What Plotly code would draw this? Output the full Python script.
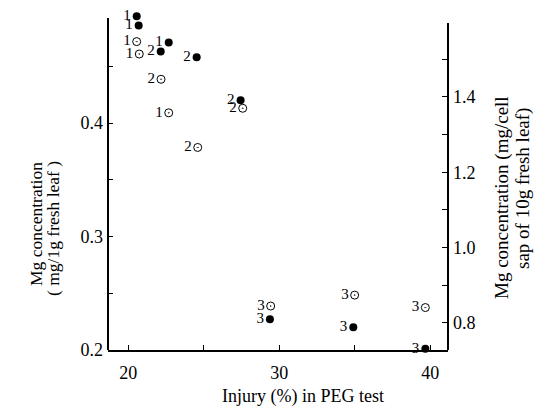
import plotly.graph_objects as go

# Filled circles: Mg per 1 g fresh leaf (left axis)
filled_injury = [20.56, 20.69, 22.68, 22.15, 24.53, 27.44, 29.38, 34.90, 39.67]
filled_mg = [0.494, 0.486, 0.471, 0.463, 0.458, 0.420, 0.227, 0.220, 0.201]
filled_group = ["1", "1", "1", "2", "2", "2", "3", "3", "3"]

# Open dotted circles: Mg in cell sap of 10 g fresh leaf (right axis)
open_injury = [20.56, 20.73, 22.68, 22.17, 27.58, 24.60, 29.43, 34.99, 39.67]
open_mg = [1.547, 1.514, 1.358, 1.447, 1.370, 1.266, 0.845, 0.874, 0.841]
open_group = ["1", "1", "1", "2", "2", "2", "3", "3", "3"]

x_ticks = [20, 25, 30, 35, 40]
x_labels = ["20", "", "30", "", "40"]
y1_ticks = [0.2, 0.25, 0.3, 0.35, 0.4, 0.45]
y1_labels = ["0.2", "", "0.3", "", "0.4", ""]
y2_ticks = [0.8, 0.9, 1.0, 1.1, 1.2, 1.3, 1.4, 1.5]
y2_labels = ["0.8", "", "1.0", "", "1.2", "", "1.4", ""]

FONT = "Liberation Serif"

fig = go.Figure()
fig.add_trace(go.Scatter(
    x=filled_injury, y=filled_mg, text=filled_group, mode="markers+text",
    textposition="middle left", textfont=dict(family=FONT, size=15, color="black"),
    marker=dict(symbol="circle", size=8, color="black"),
    cliponaxis=False, yaxis="y", showlegend=False))
fig.add_trace(go.Scatter(
    x=open_injury, y=open_mg, text=open_group, mode="markers+text",
    textposition="middle left", textfont=dict(family=FONT, size=15, color="black"),
    marker=dict(symbol="circle-open-dot", size=8, color="black", line=dict(width=1, color="black")),
    cliponaxis=False, yaxis="y2", showlegend=False))

fig.update_layout(
    width=527, height=403,
    margin=dict(l=100, r=87, t=4, b=61),
    paper_bgcolor="white", plot_bgcolor="white",
    font=dict(family=FONT, size=18, color="black"),
    xaxis=dict(range=[18.66, 41.17], tickvals=x_ticks, ticktext=x_labels,
               ticks="inside", ticklen=5, tickwidth=1, tickcolor="black",
               showline=True, linewidth=2, linecolor="black", showgrid=False,
               zeroline=False, ticklabelstandoff=5, automargin=False),
    yaxis=dict(range=[0.2, 0.4978], tickvals=y1_ticks, ticktext=y1_labels,
               ticks="inside", ticklen=5, tickwidth=1, tickcolor="black",
               showline=False, showgrid=False,
               zeroline=False, ticklabelstandoff=4, automargin=False),
    yaxis2=dict(range=[0.7283, 1.6256], tickvals=y2_ticks, ticktext=y2_labels,
                overlaying="y", side="right",
                ticks="inside", ticklen=6, tickwidth=1, tickcolor="black",
                showline=False, showgrid=False, zeroline=False, ticklabelstandoff=4,
                automargin=False),
)

fig.add_shape(type="line", xref="paper", yref="y", x0=0, x1=0, y0=0.2, y1=0.4925,
              line=dict(color="black", width=2))
fig.add_shape(type="line", xref="paper", yref="y2", x0=1, x1=1, y0=0.7283, y1=1.5964,
              line=dict(color="black", width=2))

left_font = dict(family=FONT, size=17.5, color="black")
right_font = dict(family=FONT, size=19, color="black")
fig.add_annotation(text="Mg concentration", xref="paper", yref="paper", x=-0.2118, y=0.3728,
                   textangle=-90, showarrow=False, font=left_font, xanchor="center", yanchor="middle")
fig.add_annotation(text="( mg/1g fresh leaf )", xref="paper", yref="paper", x=-0.1618, y=0.3609,
                   textangle=-90, showarrow=False, font=left_font, xanchor="center", yanchor="middle")
fig.add_annotation(text="Mg concentration (mg/cell", xref="paper", yref="paper", x=1.1588, y=0.4527,
                   textangle=-90, showarrow=False, font=right_font, xanchor="center", yanchor="middle")
fig.add_annotation(text="sap of 10g fresh leaf)", xref="paper", yref="paper", x=1.2206, y=0.4763,
                   textangle=-90, showarrow=False, font=right_font, xanchor="center", yanchor="middle")
fig.add_annotation(text="Injury (%) in PEG test", xref="paper", yref="paper", x=0.5735, y=-0.1361,
                   showarrow=False, font=dict(family=FONT, size=18, color="black"),
                   xanchor="center", yanchor="middle")

fig.write_html("out.html")
